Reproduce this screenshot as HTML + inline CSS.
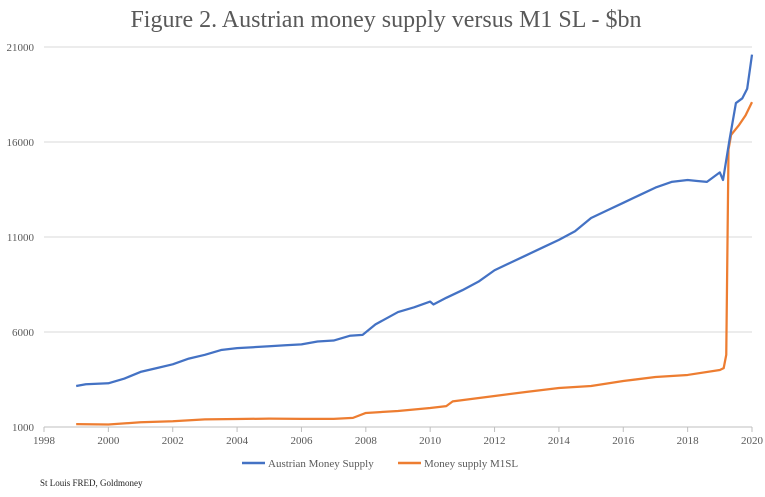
<!DOCTYPE html>
<html><head><meta charset="utf-8"><style>
body{margin:0;background:#fff}
svg text{font-family:"Liberation Serif",serif}
</style></head><body>
<svg width="765" height="492" id="c">
<text x="386" y="27" text-anchor="middle" font-size="24" fill="#595959">Figure 2. Austrian money supply versus M1 SL - $bn</text>
<g id="grid"></g><g id="series"></g>
<g>
<line x1="242" y1="463" x2="265" y2="463" stroke="#4472c4" stroke-width="2.5"/>
<text x="268" y="467" font-size="11" fill="#595959">Austrian Money Supply</text>
<line x1="398" y1="463" x2="421" y2="463" stroke="#ed7d31" stroke-width="2.5"/>
<text x="424" y="467" font-size="11" fill="#595959">Money supply M1SL</text>
</g>
<text x="40" y="486" font-size="9" fill="#222">St Louis FRED, Goldmoney</text>
</svg>
<script>
const yTicks=[1000,6000,11000,16000,21000];
const xTicks=[1998,2000,2002,2004,2006,2008,2010,2012,2014,2016,2018,2020];
const ausYears=[1999,1999.3,2000,2000.5,2001,2001.5,2002,2002.5,2003,2003.5,2004,2004.5,2005,2005.5,2006,2006.5,2007,2007.5,2007.9,2008.3,2009,2009.5,2010,2010.1,2010.5,2011,2011.5,2012,2012.5,2013,2013.5,2014,2014.5,2015,2015.5,2016,2016.5,2017,2017.5,2018,2018.3,2018.6,2019,2019.1,2019.3,2019.5,2019.7,2019.85,2020];
const ausVals=[3160,3250,3300,3550,3900,4100,4300,4600,4800,5050,5150,5200,5250,5300,5350,5500,5550,5800,5850,6400,7050,7300,7600,7450,7800,8200,8650,9250,9650,10050,10450,10850,11300,12000,12400,12800,13200,13600,13900,14000,13950,13900,14400,14000,16100,18050,18300,18800,20600];
const m1Years=[1999,2000,2001,2002,2003,2004,2005,2006,2007,2007.6,2008,2009,2010,2010.5,2010.7,2012,2013,2014,2015,2016,2017,2018,2019,2019.12,2019.2,2019.27,2019.35,2019.6,2019.8,2020];
const m1Vals=[1150,1130,1250,1300,1400,1420,1440,1430,1430,1480,1740,1840,2000,2100,2350,2630,2850,3050,3160,3420,3630,3740,4000,4100,4800,15600,16370,16900,17400,18100];
const X=y=>44+(y-1998)*708/22, Y=v=>427-(v-1000)*95/5000;
const ns="http://www.w3.org/2000/svg";
const g=document.getElementById('grid'), s=document.getElementById('series');
yTicks.forEach((t,i)=>{
 const l=document.createElementNS(ns,'line');
 l.setAttribute('x1',44);l.setAttribute('x2',752);l.setAttribute('y1',Y(t));l.setAttribute('y2',Y(t));
 l.setAttribute('stroke',i==0?'#bfbfbf':'#d9d9d9');l.setAttribute('stroke-width',1);
 
 
 g.appendChild(l);
 const tx=document.createElementNS(ns,'text');
 tx.setAttribute('x',34);tx.setAttribute('y',Y(t)+4);tx.setAttribute('text-anchor','end');
 tx.setAttribute('font-size','11');tx.setAttribute('fill','#595959');tx.textContent=t;
 
 
 g.appendChild(tx);
});
xTicks.forEach(t=>{
 const l=document.createElementNS(ns,'line');
 l.setAttribute('x1',X(t));l.setAttribute('x2',X(t));l.setAttribute('y1',427);l.setAttribute('y2',432);
 l.setAttribute('stroke','#bfbfbf');
 
 
 g.appendChild(l);
 const tx=document.createElementNS(ns,'text');
 tx.setAttribute('x',X(t));tx.setAttribute('y',444);tx.setAttribute('text-anchor','middle');
 tx.setAttribute('font-size','11');tx.setAttribute('fill','#595959');tx.textContent=t;
 
 
 g.appendChild(tx);
});
function line(xs,vs,col,name){
 const p=document.createElementNS(ns,'polyline');
 p.setAttribute('points',xs.map((x,i)=>X(x)+','+Y(vs[i])).join(' '));
 p.setAttribute('fill','none');p.setAttribute('stroke',col);p.setAttribute('stroke-width',2.25);
 p.setAttribute('stroke-linejoin','round');
 
 
 s.appendChild(p);
}
line(m1Years,m1Vals,'#ed7d31','m1sl-line');
line(ausYears,ausVals,'#4472c4','austrian-money-supply-line');
</script>
</body></html>
